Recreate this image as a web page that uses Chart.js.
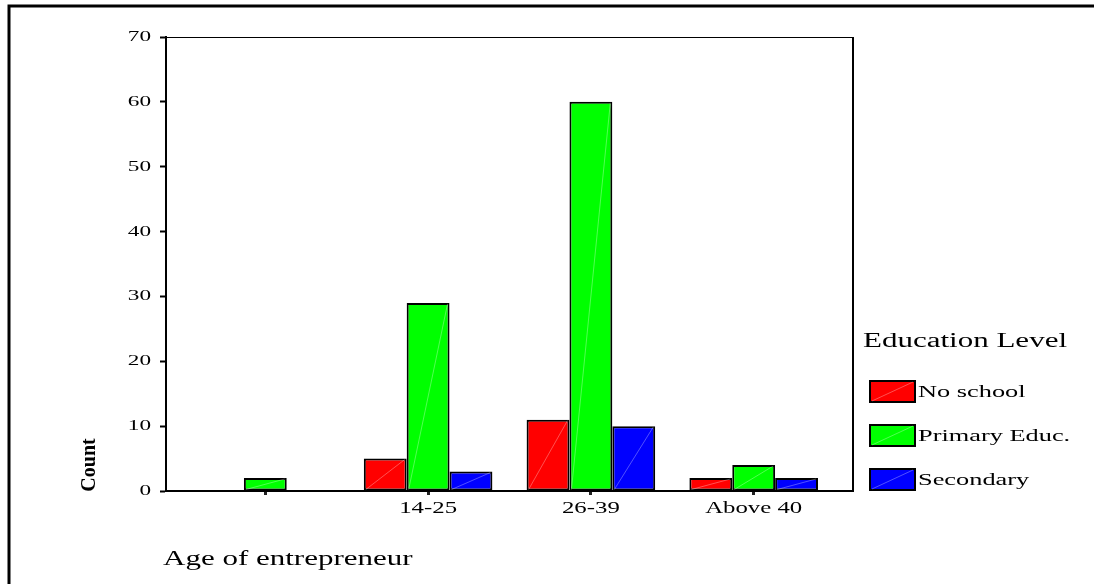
<!DOCTYPE html>
<html>
<head>
<meta charset="utf-8">
<script src="https://cdn.jsdelivr.net/npm/chart.js@4.4.1/dist/chart.umd.min.js"></script>
<style>
  body { margin: 0; background: #fff; }
  canvas { display: block; }
</style>
</head>
<body>
<canvas id="ageChart" width="1094" height="584"></canvas>
<script>
// data
const ageGroups = ["", "14-25", "26-39", "Above 40"];
const noSchool = [null, 5, 11, 2];
const primaryEduc = [2, 29, 60, 4];
const secondary = [null, 3, 10, 2];
const yTicks = [0, 10, 20, 30, 40, 50, 60, 70];

const seriesNames = ["No school", "Primary Educ.", "Secondary"];
const seriesColors = ["#ff0000", "#00ff00", "#0000ff"];

const FONT = '"Liberation Serif", "Times New Roman", serif';
const STRETCH = 1.55;

// wide, stretched serif text like the original export
const drawText = (ctx, text, x, y, size, align, stretch) => {
  ctx.save();
  ctx.font = size + 'px ' + FONT;
  ctx.fillStyle = '#000';
  ctx.textBaseline = 'middle';
  const w = ctx.measureText(text).width * stretch;
  let x0 = x;
  if (align === 'center') x0 = x - w / 2;
  if (align === 'right') x0 = x - w;
  ctx.translate(x0, y);
  ctx.scale(stretch, 1);
  ctx.textAlign = 'left';
  ctx.fillText(text, 0, 0);
  ctx.restore();
};

// faint diagonal streak seen on every filled box
const streak = (ctx, x0, y0, x1, y1) => {
  ctx.save();
  ctx.strokeStyle = 'rgba(255,255,255,0.45)';
  ctx.lineWidth = 0.7;
  ctx.beginPath();
  ctx.moveTo(x0, y0);
  ctx.lineTo(x1, y1);
  ctx.stroke();
  ctx.restore();
};

// empty cells are left out entirely
const toPoints = (arr) => arr.map((v, i) => ({x: i, y: v})).filter(p => p.y !== null);

const framePlugin = {
  id: 'frame',
  afterDatasetsDraw(chart) {
    const ctx = chart.ctx;
    chart.data.datasets.forEach((ds, i) => {
      chart.getDatasetMeta(i).data.forEach(bar => {
        if (bar.skip || bar.y == null || isNaN(bar.y)) return;
        const w = bar.width;
        streak(ctx, bar.x - w / 2 + 2, bar.base - 1, bar.x + w / 2 - 2, bar.y + 1);
      });
    });
  },
  afterDraw(chart) {
    const ctx = chart.ctx;
    const {left, top, right, bottom} = chart.chartArea;
    // plot box top and right
    ctx.save();
    ctx.strokeStyle = '#000';
    ctx.lineWidth = 1.2;
    ctx.beginPath();
    ctx.moveTo(left, top + 0.5);
    ctx.lineTo(right, top + 0.5);
    ctx.stroke();
    ctx.lineWidth = 2;
    ctx.beginPath();
    ctx.moveTo(right, top);
    ctx.lineTo(right, bottom);
    ctx.stroke();
    // outer border
    ctx.lineWidth = 3;
    ctx.beginPath();
    ctx.moveTo(9, 584);
    ctx.lineTo(9, 6);
    ctx.lineTo(1094, 6);
    ctx.stroke();
    ctx.restore();

    // tick labels
    const ys = chart.scales.y;
    ys.ticks.forEach(t => {
      drawText(ctx, String(t.value), left - 15, ys.getPixelForValue(t.value), 15, 'right', STRETCH);
    });
    const xs = chart.scales.x;
    ageGroups.forEach((lab, i) => {
      if (lab) drawText(ctx, lab, xs.getPixelForValue(i), bottom + 18, 16, 'center', STRETCH);
    });

    // axis titles
    drawText(ctx, 'Age of entrepreneur', 163, 560, 20, 'left', STRETCH);
    ctx.save();
    ctx.translate(90, 465);
    ctx.rotate(-Math.PI / 2);
    ctx.font = 'bold 20px ' + FONT;
    ctx.fillStyle = '#000';
    ctx.textAlign = 'center';
    ctx.textBaseline = 'middle';
    ctx.fillText('Count', 0, 0);
    ctx.restore();

    // legend
    drawText(ctx, 'Education Level', 863, 342, 20, 'left', STRETCH);
    chart.data.datasets.forEach((ds, i) => {
      const by = 381 + i * 44;
      ctx.save();
      ctx.fillStyle = ds.backgroundColor;
      ctx.fillRect(870, by, 45, 21);
      ctx.strokeStyle = '#000';
      ctx.lineWidth = 2;
      ctx.strokeRect(870, by, 45, 21);
      ctx.restore();
      streak(ctx, 872, by + 20, 913, by + 1);
      drawText(ctx, ds.label, 918, by + 12, 17, 'left', STRETCH);
    });
  }
};

const datasets = [noSchool, primaryEduc, secondary].map((arr, i) => ({
  label: seriesNames[i],
  data: toPoints(arr),
  backgroundColor: seriesColors[i],
  borderColor: '#000',
  borderWidth: 2,
  borderSkipped: false,
  categoryPercentage: 0.79,
  barPercentage: 1.0
}));

new Chart(document.getElementById('ageChart'), {
  type: 'bar',
  data: { datasets: datasets },
  options: {
    responsive: false,
    animation: false,
    layout: { padding: { left: 110, top: 37, right: 241, bottom: 63 } },
    plugins: {
      legend: { display: false },
      tooltip: { enabled: false }
    },
    scales: {
      x: {
        type: 'linear',
        min: -0.61,
        max: 3.61,
        offset: false,
        afterBuildTicks: (scale) => {
          scale.ticks = ageGroups.map((_, i) => ({value: i}));
        },
        afterFit: (scale) => { scale.height = 30; },
        ticks: { display: false },
        grid: {
          offset: false,
          drawOnChartArea: false,
          drawTicks: true,
          tickLength: 4,
          tickWidth: 3,
          tickColor: '#222'
        },
        border: { display: true, color: '#000', width: 2 }
      },
      y: {
        min: 0,
        max: 70,
        afterBuildTicks: (scale) => {
          scale.ticks = yTicks.map(v => ({value: v}));
        },
        afterFit: (scale) => { scale.width = 56; },
        ticks: { display: false },
        grid: {
          drawOnChartArea: false,
          drawTicks: true,
          tickLength: 6,
          tickWidth: 2,
          tickColor: '#000'
        },
        border: { display: true, color: '#000', width: 2 }
      }
    }
  },
  plugins: [framePlugin]
});
</script>
</body>
</html>
